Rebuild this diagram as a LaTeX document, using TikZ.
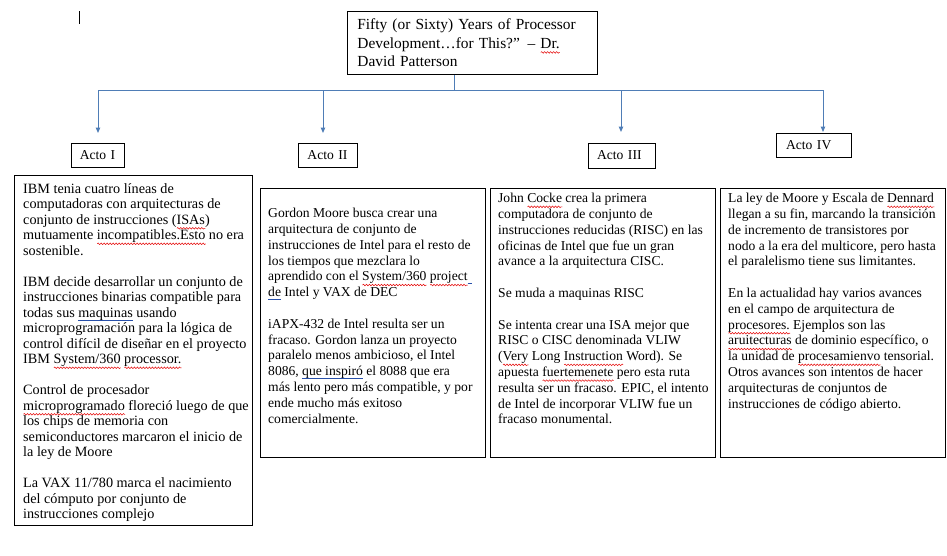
\documentclass[tikz,border=0pt]{standalone}
\usepackage{fontspec}
\setmainfont{Liberation Serif}
\usepackage{tikz}
\usetikzlibrary{arrows.meta, decorations.pathmorphing}

\definecolor{feedblue}{RGB}{79,125,182}
\definecolor{spellred}{RGB}{230,20,20}
\definecolor{grammarblue}{RGB}{40,80,170}

% red wavy line (spelling) and blue line (grammar)
\newlength\marklen
\newcommand\spellwave[1]{\setbox0\hbox{#1}\setlength\marklen{\wd0}%
  \rlap{\smash{\raisebox{-4.2pt}{\tikz[baseline=0pt]\draw[spellred, line width=0.55pt,
    decorate, decoration={snake, segment length=3pt, amplitude=0.8pt}] (0pt,0pt) -- (\marklen,0pt);}}}%
  \box0\relax}
\newcommand\grammarline[1]{\setbox0\hbox{#1}%
  \rlap{\textcolor{grammarblue}{\rule[-3.4pt]{\wd0}{0.8pt}}}\box0\relax}
\newcommand\gapline{\rlap{\textcolor{grammarblue}{\rule[-3.4pt]{4pt}{0.8pt}}}}

\begin{document}
\begin{tikzpicture}[x=1pt, y=-1pt,
    titlebox/.style={rectangle, draw=black, line width=0.8pt, minimum width=250pt,
                     minimum height=63pt, inner xsep=10pt, text width=230pt, align=left,
                     font=\fontsize{15.4}{18.3}\selectfont},
    acto/.style={rectangle, draw=black, line width=0.8pt, minimum height=24pt,
                 inner ysep=0pt, font=\fontsize{13.6}{16}\selectfont},
    panel/.style={rectangle, draw=black, line width=0.8pt, anchor=north west},
    paneltext/.style={anchor=north west, inner sep=0pt, align=left,
                      font=\fontsize{13.6}{15.8}\selectfont},
    feed/.style={draw=feedblue, line width=1pt},
    tip/.style={-{Triangle[length=5.5pt, width=4.5pt]}}
]
    \useasboundingbox (0,0) rectangle (947,555);

    % Cursor
    \draw[line width=0.9pt] (79,11) -- (79,24);

    % Title
    \node[titlebox, anchor=north west] (title) at (347,11) {Fifty (or Sixty) Years of Processor\\
        Development…for This?” – \spellwave{Dr.}\\
        David Patterson};

    % Acts
    \node[acto, inner xsep=7pt, text width=39pt, align=center] (acto1) at (97.5,155) {Acto I};
    \node[acto, inner xsep=8pt, text width=43pt, align=center] (acto2) at (327.5,155) {Acto II};
    \node[acto, inner xsep=9pt, text width=49pt, align=left, minimum height=25pt] (acto3) at (621.5,155.5) {Acto III};
    \node[acto, inner xsep=10pt, text width=55pt, align=left] (acto4) at (813.5,145) {Acto IV};

    % Arrows
    \coordinate (bus) at (454,90);
    \coordinate (tip1) at (98,133);
    \coordinate (tip2) at (323,133);
    \coordinate (tip3) at (621,132);
    \coordinate (tip4) at (823,132);
    \draw[feed] (title.south -| bus) -- (bus);
    \draw[feed, tip] (bus) -| (tip1);
    \draw[feed, tip] (bus) -| (tip2);
    \draw[feed, tip] (bus) -| (tip3);
    \draw[feed, tip] (bus) -| (tip4);

    % Panels
    \node[panel, minimum width=238pt, minimum height=350pt] (panel1) at (14,175) {};
    \node[panel, minimum width=225pt, minimum height=269pt] (panel2) at (260,188) {};
    \node[panel, minimum width=225pt, minimum height=269pt] (panel3) at (490,188) {};
    \node[panel, minimum width=225pt, minimum height=269pt] (panel4) at (720,188) {};

    % Acto I
    \node[paneltext, font=\fontsize{14.2}{15.5}\selectfont] (text1) at (23,183) {IBM tenia cuatro líneas de\\
        computadoras con arquitecturas de\\
        conjunto de instrucciones (\spellwave{ISAs})\\
        mutuamente \spellwave{incompatibles.Esto} no era\\
        sostenible.\\[15.5pt]
        IBM decide desarrollar un conjunto de\\
        instrucciones binarias compatible para\\
        todas sus \grammarline{maquinas} usando\\
        microprogramación para la lógica de\\
        control difícil de diseñar en el proyecto\\
        IBM \spellwave{System/360} \spellwave{processor.}\\[15.5pt]
        Control de procesador\\
        \spellwave{microprogramado} floreció luego de que\\
        los chips de memoria con\\
        semiconductores marcaron el inicio de\\
        la ley de Moore\\[15.5pt]
        La VAX 11/780 marca el nacimiento\\
        del cómputo por conjunto de\\
        instrucciones complejo};

    % Acto II
    \node[paneltext] (text2) at (268,208) {Gordon Moore busca crear una\\
        arquitectura de conjunto de\\
        instrucciones de Intel para el resto de\\
        los tiempos que mezclara lo\\
        aprendido con el \spellwave{System/360} \spellwave{project}\gapline\\
        \grammarline{de} Intel y VAX de DEC\\[15.8pt]
        iAPX-432 de Intel resulta ser un\\
        fracaso. Gordon lanza un proyecto\\
        paralelo menos ambicioso, el Intel\\
        8086, \grammarline{que inspiró} el 8088 que era\\
        más lento pero más compatible, y por\\
        ende mucho más exitoso\\
        comercialmente.};

    % Acto III
    \node[paneltext] (text3) at (498,193) {John \spellwave{Cocke} crea la primera\\
        computadora de conjunto de\\
        instrucciones reducidas (RISC) en las\\
        oficinas de Intel que fue un gran\\
        avance a la arquitectura CISC.\\[15.8pt]
        Se muda a maquinas RISC\\[15.8pt]
        Se intenta crear una ISA mejor que\\
        RISC o CISC denominada VLIW\\
        (\spellwave{Very} Long \spellwave{Instruction} Word). Se\\
        apuesta \spellwave{fuertemenete} pero esta ruta\\
        resulta ser un fracaso. EPIC, el intento\\
        de Intel de incorporar VLIW fue un\\
        fracaso monumental.};

    % Acto IV
    \node[paneltext] (text4) at (728,193) {La ley de Moore y Escala de \spellwave{Dennard}\\
        llegan a su fin, marcando la transición\\
        de incremento de transistores por\\
        nodo a la era del multicore, pero hasta\\
        el paralelismo tiene sus limitantes.\\[15.8pt]
        En la actualidad hay varios avances\\
        en el campo de arquitectura de\\
        \spellwave{procesores.} Ejemplos son las\\
        \spellwave{aruitecturas} de dominio específico, o\\
        la unidad de \spellwave{procesamienvo} tensorial.\\
        Otros avances son intentos de hacer\\
        arquitecturas de conjuntos de\\
        instrucciones de código abierto.};

\end{tikzpicture}
\end{document}
